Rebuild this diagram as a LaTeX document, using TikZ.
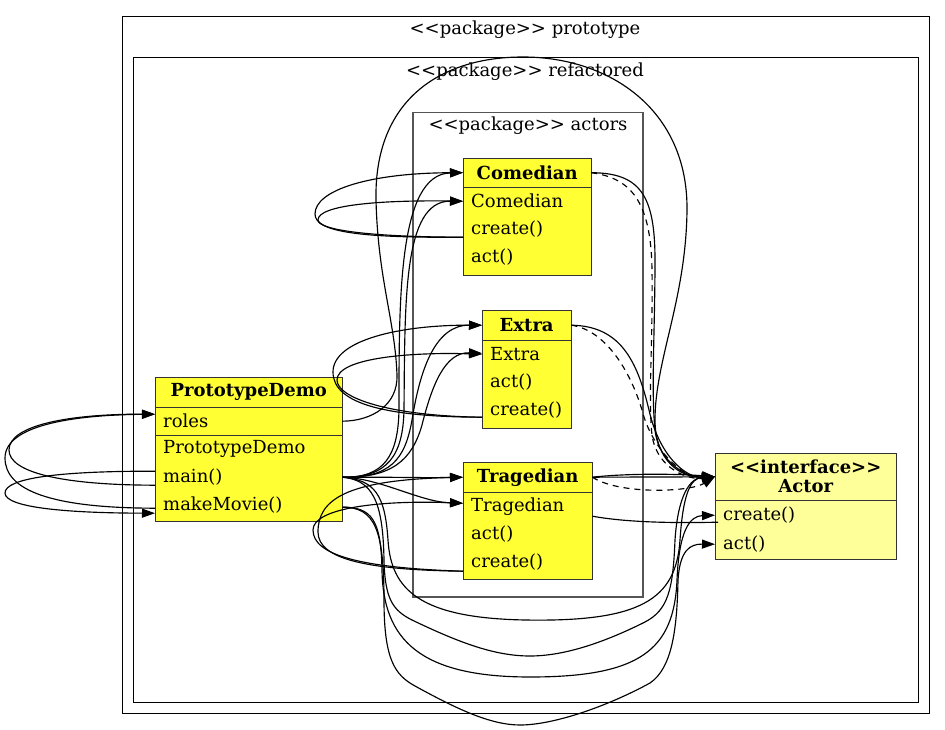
\documentclass[tikz,border=0pt]{standalone}
\usepackage{fontspec}
\setmainfont{DejaVu Serif}
\usetikzlibrary{arrows.meta}
\definecolor{clsy}{HTML}{FFFF33}
\definecolor{acty}{HTML}{FFFF99}
\definecolor{boxc}{HTML}{333333}
\definecolor{pkgc}{HTML}{555555}
\newcommand{\stL}{<\kern0pt<}
\newcommand{\stR}{>\kern0pt>}
\tikzset{
  pkgbox/.style={draw=black, line width=1pt, inner sep=0pt, anchor=north west},
  pkgin/.style={draw=pkgc, line width=1.5pt, inner sep=0pt, anchor=north west},
  pkglbl/.style={inner sep=0pt},
  cls/.style={draw=boxc, fill=clsy, line width=1.2pt, inner sep=0pt, anchor=north west},
  ifc/.style={cls, fill=acty},
  hdr/.style={inner sep=0pt, minimum height=29pt, anchor=north west, font=\fontsize{18}{21}\selectfont\bfseries, align=center},
  fld/.style={inner xsep=8pt, inner ysep=0pt, minimum height=28pt, anchor=north west, align=left},
  sepline/.style={draw=boxc, line width=1.2pt},
  link/.style={line width=1.15pt, -{Triangle[length=13pt,width=9pt]}},
  reallink/.style={link, dash pattern=on 6pt off 5pt},
  plainlink/.style={line width=1.15pt},
}
\begin{document}
\begin{tikzpicture}[x=1pt, y=-1pt, font=\fontsize{18}{21}\selectfont]
\useasboundingbox (0,0) rectangle (945,730);

% packages
\node[pkgbox, minimum width=807pt, minimum height=697pt] (pkgProto) at (122,16) {};
\node[pkglbl] (lblProto) at (525,30) {\stL package\stR{} prototype};
\node[pkgbox, minimum width=785pt, minimum height=645pt] (pkgRef) at (133,57) {};
\node[pkglbl] (lblRef) at (525,72) {\stL package\stR{} refactored};
\node[pkgin, minimum width=230pt, minimum height=484pt] (pkgAct) at (412,112) {};
\node[pkglbl] (lblAct) at (528,126) {\stL package\stR{} actors};

% Comedian
\node[cls, minimum width=128pt, minimum height=117pt] (comBox) at (463,158) {};
\node[hdr, minimum width=128pt] (com) at (463,158) {Comedian};
\node[fld, text width=112pt] (comC) at (463,187) {Comedian};
\node[fld, text width=112pt] (comCr) at (463,215) {create()};
\node[fld, text width=112pt] (comA) at (463,243) {act()};
\draw[sepline] (com.south west) -- (com.south east);

% Extra
\node[cls, minimum width=89pt, minimum height=118pt] (extBox) at (482,310) {};
\node[hdr, minimum width=89pt, minimum height=30pt] (ext) at (482,310) {Extra};
\node[fld, text width=73pt] (extE) at (482,340) {Extra};
\node[fld, text width=73pt] (extA) at (482,368) {act()};
\node[fld, text width=73pt] (extCr) at (482,396) {create()};
\draw[sepline] (ext.south west) -- (ext.south east);

% Tragedian
\node[cls, minimum width=129pt, minimum height=117pt] (traBox) at (463,462) {};
\node[hdr, minimum width=129pt, minimum height=30pt] (tra) at (463,462) {Tragedian};
\node[fld, text width=113pt] (traT) at (463,492) {Tragedian};
\node[fld, text width=113pt] (traA) at (463,520) {act()};
\node[fld, text width=113pt] (traCr) at (463,548) {create()};
\draw[sepline] (tra.south west) -- (tra.south east);

% PrototypeDemo
\node[cls, minimum width=187pt, minimum height=144pt] (pdBox) at (155,377) {};
\node[hdr, minimum width=187pt, minimum height=30pt] (pd) at (155,377) {PrototypeDemo};
\node[fld, text width=171pt] (pdRoles) at (155,407) {roles};
\node[fld, text width=171pt] (pdPD) at (155,435) {PrototypeDemo};
\node[fld, text width=171pt] (pdMain) at (155,463) {main()};
\node[fld, text width=171pt] (pdMM) at (155,491) {makeMovie()};
\draw[sepline] (pd.south west) -- (pd.south east);
\draw[sepline] (pdRoles.south west) -- (pdRoles.south east);

% Actor
\node[ifc, minimum width=181pt, minimum height=106pt] (actBox) at (715,453) {};
\node[hdr, minimum width=181pt, minimum height=47pt, font=\fontsize{18}{19}\selectfont\bfseries] (act) at (715,453) {\stL interface\stR\\Actor};
\node[fld, text width=165pt, minimum height=30pt] (actCr) at (715,500) {create()};
\node[fld, text width=165pt] (actAct) at (715,530) {act()};
\draw[sepline] (act.south west) -- (act.south east);

% ---- PrototypeDemo self loops
\draw[link] ([yshift=-8pt]pdMain.west) .. controls (60,485) and (9,472) .. (9,450) .. controls (9,425) and (70,414) .. ([yshift=7pt]pdRoles.west);
\draw[link] ([yshift=-3pt]pdMM.west) .. controls (50,508) and (5,490) .. (5,458) .. controls (5,426) and (70,415) .. ([yshift=7pt]pdRoles.west);
\draw[link] ([yshift=6pt]pdMain.west) .. controls (60,471) and (5,478) .. (5,493) .. controls (5,508) and (70,513) .. ([yshift=-8pt]pdMM.west);

% ---- Comedian self loops
\draw[link] ([yshift=-8pt]comCr.west) .. controls (360,238) and (315,232) .. (315,214) .. controls (315,190) and (370,173) .. (com.west);
\draw[link] ([yshift=-8pt]comCr.west) .. controls (370,237) and (318,230) .. (318,220) .. controls (318,205) and (380,200) .. (comC.west);

% ---- Extra self loops
\draw[link] ([yshift=-7pt]extCr.west) .. controls (390,417) and (333,405) .. (333,372) .. controls (333,340) and (400,325) .. (ext.west);
\draw[link] ([yshift=-7pt]extCr.west) .. controls (390,416) and (337,398) .. (337,380) .. controls (337,358) and (410,352) .. (extE.west);

% ---- Tragedian self loops
\draw[link] ([yshift=-9pt]traCr.west) .. controls (370,570) and (318,560) .. (318,532) .. controls (318,500) and (345,480) .. (tra.west);
\draw[link] ([yshift=-9pt]traCr.west) .. controls (360,568) and (313,555) .. (313,530) .. controls (313,508) and (380,500) .. ([yshift=3pt]traT.west);

% ---- main -> actors
\draw[link] (pdMain.east) .. controls (385,478) and (398,455) .. (399,410) .. controls (399,300) and (398,174) .. (com.west);
\draw[link] (pdMain.east) .. controls (388,478) and (403,455) .. (404,410) .. controls (405,300) and (403,201) .. (comC.west);
\draw[link] (pdMain.east) .. controls (390,478) and (405,460) .. (412,420) .. controls (420,370) and (435,325) .. (ext.west);
\draw[link] (pdMain.east) .. controls (392,478) and (412,460) .. (422,425) .. controls (432,385) and (445,352) .. ([yshift=1pt]extE.west);
\draw[link] (pdMain.east) .. controls (400,477) and (420,478) .. (tra.west);
\draw[link] (pdMain.east) .. controls (380,478) and (420,502) .. ([yshift=3pt]traT.west);

% ---- long curves below to Actor
\draw[link] (pdMain.east) .. controls (375,480) and (385,495) .. (388,540) .. controls (391,590) and (420,618) .. (525,620) .. controls (640,622) and (676,600) .. (680,540) .. controls (683,495) and (690,478) .. (act.west);
\draw[link] (pdMain.east) .. controls (372,480) and (383,500) .. (384,560) .. controls (385,598) and (392,610) .. (412,620) .. controls (460,643) and (495,656) .. (530,656) .. controls (565,656) and (605,642) .. (645,622) .. controls (668,610) and (673,590) .. (675,540) .. controls (678,495) and (690,478) .. (act.west);
\draw[link] ([yshift=-2pt]pdMM.east) .. controls (372,507) and (381,520) .. (382,570) .. controls (383,640) and (420,677) .. (530,677) .. controls (640,677) and (674,650) .. (677,580) .. controls (679,530) and (690,516) .. (actCr.west);
\draw[link] ([yshift=-2pt]pdMM.east) .. controls (375,507) and (384,530) .. (384,600) .. controls (384,660) and (395,675) .. (415,686) .. controls (455,708) and (490,725) .. (520,725) .. controls (555,725) and (610,705) .. (650,683) .. controls (672,668) and (677,630) .. (678,580) .. controls (680,550) and (690,544) .. (actAct.west);

% ---- roles -> Actor big loop
\draw[link] (pdRoles.east) .. controls (372,421) and (398,405) .. (397,375) .. controls (395,320) and (378,280) .. (376,200) .. controls (374,100) and (440,57) .. (523,57) .. controls (610,57) and (688,110) .. (687,210) .. controls (686,300) and (655,360) .. (655,420) .. controls (655,460) and (680,478) .. (act.west);

% ---- actors -> Actor
\draw[link] (com.east) .. controls (640,173) and (655,195) .. (655,260) .. controls (655,330) and (651,390) .. (655,430) .. controls (659,465) and (690,478) .. (act.west);
\draw[reallink] (com.east) .. controls (630,178) and (651,200) .. (652,270) .. controls (653,340) and (648,400) .. (652,435) .. controls (657,470) and (690,480) .. (act.west);
\draw[link] (ext.east) .. controls (620,326) and (637,360) .. (649,410) .. controls (659,455) and (685,478) .. (act.west);
\draw[reallink] (ext.east) .. controls (605,330) and (630,370) .. (642,410) .. controls (652,450) and (685,480) .. (act.west);
\draw[link] (tra.east) .. controls (630,473) and (680,474) .. (act.west);
\draw[link] (tra.east) .. controls (640,477) and (680,477) .. (act.west);
\draw[reallink] (tra.east) .. controls (620,495) and (690,492) .. (act.west);
\draw[plainlink] ([yshift=-10pt]traT.east) .. controls (630,523) and (680,523) .. ([yshift=-7pt,xshift=3pt]actCr.west);

\end{tikzpicture}
\end{document}
